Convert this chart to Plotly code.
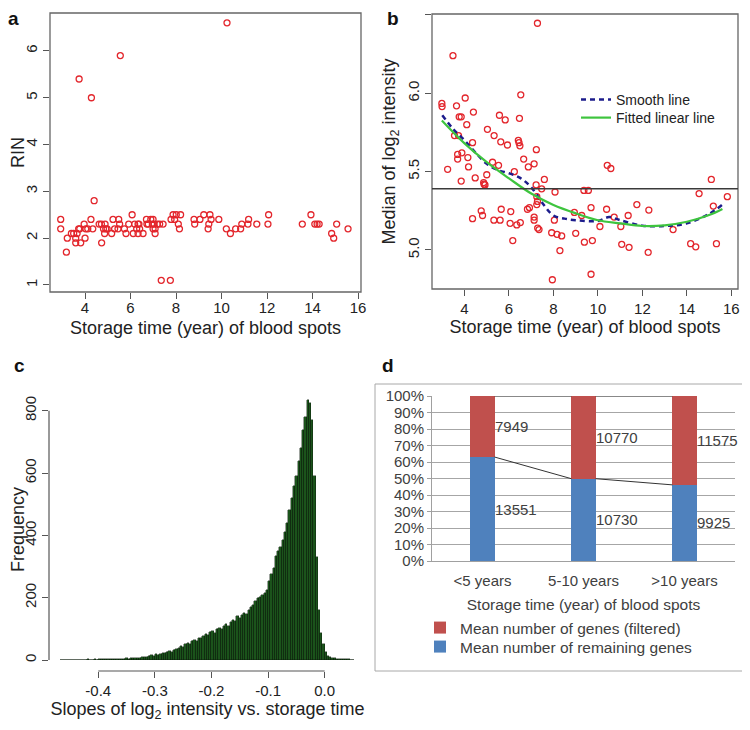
import plotly.graph_objects as go

# ---------------- Panel a: RIN vs storage time ----------------
a_x = [2.93, 2.93, 3.18, 3.22, 3.40, 3.50, 3.59, 3.65, 3.59, 3.74, 3.77, 3.72, 3.81, 3.96, 4.00,
       4.03, 4.12, 4.28, 4.26, 4.34, 4.40, 4.62, 4.72, 4.73, 4.81, 4.86, 4.91, 4.97, 4.88, 5.17,
       5.23, 5.30, 5.45, 5.48, 5.55, 5.52, 5.73, 5.80, 5.92, 6.07, 6.12, 6.18, 6.27, 6.33, 6.33,
       6.40, 6.37, 6.55, 6.70, 6.72, 6.78, 6.89, 6.96, 6.99, 6.99, 7.03, 7.08, 7.08, 7.18, 7.28,
       7.35, 7.43, 7.75, 7.78, 7.87, 7.94, 8.01, 8.10, 8.15, 8.20, 8.79, 8.82, 9.05, 9.22, 9.41,
       9.44, 9.49, 9.54, 9.88, 10.21, 10.24, 10.39, 10.62, 10.84, 10.89, 11.16, 11.19, 11.55, 12.04, 12.07,
       13.55, 13.93, 14.10, 14.20, 14.29, 14.84, 14.93, 15.06, 15.56]
a_y = [2.4, 2.2, 1.7, 2.0, 2.1, 2.1, 2.0, 2.1, 1.9, 5.4, 2.2, 2.2, 1.9, 2.3, 2.0,
       2.2, 2.2, 5.0, 2.4, 2.2, 2.8, 2.3, 2.3, 1.9, 2.2, 2.1, 2.2, 2.2, 2.3, 2.1,
       2.4, 2.2, 2.2, 2.4, 5.9, 2.3, 2.2, 2.1, 2.3, 2.5, 2.1, 2.3, 2.2, 2.1, 2.3,
       2.2, 2.3, 2.1, 2.4, 2.3, 2.3, 2.4, 2.3, 2.4, 2.2, 2.3, 2.1, 2.2, 2.3, 2.3,
       1.1, 2.3, 1.1, 2.4, 2.5, 2.4, 2.5, 2.3, 2.2, 2.5, 2.4, 2.3, 2.4, 2.5, 2.2,
       2.3, 2.5, 2.4, 2.4, 2.2, 6.6, 2.1, 2.2, 2.2, 2.3, 2.3, 2.4, 2.3, 2.3, 2.5,
       2.3, 2.5, 2.3, 2.3, 2.3, 2.1, 2.0, 2.3, 2.2]

# ---------------- Panel b: median log2 intensity ----------------
b_x = [7.28, 3.48, 6.53, 4.03, 2.98, 2.99, 3.64, 4.40, 3.76, 3.85, 5.57, 5.83, 6.47, 4.10, 5.03,
       3.55, 3.73, 5.33, 5.63, 5.93, 6.42, 6.45, 6.49, 4.36, 6.66, 7.23, 3.88, 3.69, 4.15, 3.69,
       4.18, 5.26, 5.53, 6.87, 7.13, 3.24, 6.24, 5.00, 4.48, 3.85, 4.88, 4.92, 4.86, 7.59, 10.42,
       10.58, 7.22, 7.47, 7.25, 7.28, 7.25, 8.07, 9.37, 9.57, 15.10, 14.55, 15.82, 9.69, 10.39, 11.75,
       12.29, 15.19, 11.36, 10.73, 11.03, 4.36, 4.81, 4.75, 5.65, 5.32, 5.60, 6.08, 6.05, 6.35, 6.51,
       6.83, 6.92, 7.13, 7.13, 7.29, 7.35, 8.04, 8.94, 9.27, 10.09, 11.07, 11.40, 12.26, 9.00, 7.92,
       8.16, 8.37, 9.39, 9.75, 6.17, 8.29, 7.95, 9.69, 13.38, 14.17, 14.40, 15.33]
b_y = [6.447, 6.24, 5.99, 5.97, 5.935, 5.915, 5.92, 5.88, 5.85, 5.85, 5.86, 5.83, 5.84, 5.80, 5.77,
       5.73, 5.73, 5.73, 5.69, 5.67, 5.70, 5.685, 5.665, 5.685, 5.58, 5.64, 5.62, 5.61, 5.59, 5.58,
       5.53, 5.56, 5.54, 5.53, 5.55, 5.515, 5.50, 5.48, 5.46, 5.44, 5.42, 5.415, 5.43, 5.45, 5.54,
       5.52, 5.415, 5.39, 5.34, 5.31, 5.29, 5.37, 5.38, 5.38, 5.45, 5.36, 5.34, 5.27, 5.26, 5.29,
       5.255, 5.28, 5.22, 5.21, 5.15, 5.20, 5.22, 5.25, 5.26, 5.19, 5.19, 5.245, 5.17, 5.16, 5.175,
       5.26, 5.27, 5.21, 5.19, 5.14, 5.13, 5.19, 5.24, 5.22, 5.15, 5.036, 5.017, 4.985, 5.106, 5.11,
       5.10, 5.09, 5.05, 5.06, 5.06, 4.996, 4.81, 4.845, 5.13, 5.04, 5.02, 5.04]

b_smooth_x = [3.0, 3.5, 4.0, 4.5, 5.0, 5.5, 6.0, 6.5, 7.0, 7.5, 8.0, 8.5, 9.0, 10.0, 10.5, 11.0,
              12.0, 13.0, 14.0, 15.0, 15.6]
b_smooth_y = [5.86, 5.77, 5.70, 5.62, 5.55, 5.51, 5.49, 5.46, 5.40, 5.30, 5.22, 5.20, 5.19, 5.185,
              5.21, 5.19, 5.155, 5.153, 5.17, 5.23, 5.29]
b_fit_x = [2.98, 4.0, 5.0, 6.0, 7.0, 8.0, 9.0, 10.0, 11.0, 12.0, 13.0, 14.0, 15.0, 15.6]
b_fit_y = [5.826, 5.68, 5.56, 5.457, 5.36, 5.287, 5.234, 5.19, 5.17, 5.153, 5.157, 5.18, 5.223, 5.262]
b_ref = 5.39

# ---------------- Panel c: histogram of slopes ----------------
c_first_center = -0.466
c_bin_width = 0.004
c_counts = [0, 0, 0, 1, 0, 1, 0, 1, 1, 0, 1, 1, 2, 1, 1, 2, 1, 2, 2, 3, 2, 3, 2, 3, 3,
            3, 4, 3, 4, 5, 4, 5, 6, 5, 7, 8, 9, 11, 10, 13, 15, 14, 18, 17, 20, 22, 21, 26, 28, 27,
            33, 35, 38, 44, 42, 50, 55, 52, 62, 65, 60, 72, 70, 78, 84, 80, 90, 94, 88, 100,
            104, 98, 110, 114, 108, 122, 130, 124, 140, 136, 145, 150, 148, 162, 170, 176, 190, 198, 202, 208,
            215, 225, 255, 275, 295, 335, 350, 362, 385, 410, 440, 481, 520, 560, 590, 640, 680, 738, 780, 835,
            825, 770, 590, 330, 160, 86, 50, 25, 14, 10, 6, 5, 4, 4, 3, 3, 2, 2, 1, 0]
c_centers = [round(c_first_center + i * c_bin_width, 4) for i in range(len(c_counts))]

# ---------------- Panel d: stacked percentages ----------------
d_categories = ["<5 years", "5-10 years", ">10 years"]
d_filtered = [7949, 10770, 11575]
d_remaining = [13551, 10730, 9925]
d_tot = [f + r for f, r in zip(d_filtered, d_remaining)]
d_rem_frac = [r / t for r, t in zip(d_remaining, d_tot)]
d_fil_frac = [f / t for f, t in zip(d_filtered, d_tot)]

FONT = "Liberation Sans, Arial, sans-serif"
RED = "#e3262c"
# the page body has an 8px margin, so the figure is made 8px smaller and all
# screen positions below are converted from window pixels to figure fractions
OFF = 8
W, H = 750 - OFF, 730 - OFF


def px(x):
    return (x - OFF) / W


def py(y):
    return 1 - (y - OFF) / H


fig = go.Figure()

# panel a
fig.add_trace(go.Scatter(x=a_x, y=a_y, mode="markers", xaxis="x", yaxis="y", showlegend=False,
                         marker=dict(symbol="circle-open", size=6, color=RED, line=dict(width=1.3))))
# panel b
fig.add_trace(go.Scatter(x=b_x, y=b_y, mode="markers", xaxis="x2", yaxis="y2", showlegend=False,
                         marker=dict(symbol="circle-open", size=6, color=RED, line=dict(width=1.3))))
fig.add_trace(go.Scatter(x=b_smooth_x, y=b_smooth_y, mode="lines", xaxis="x2", yaxis="y2",
                         name="Smooth line", legend="legend", line_shape="spline",
                         line=dict(color="#1c1c8c", width=2.5, dash="5px,4px")))
fig.add_trace(go.Scatter(x=b_fit_x, y=b_fit_y, mode="lines", xaxis="x2", yaxis="y2",
                         name="Fitted linear line", legend="legend3", line_shape="spline",
                         line=dict(color="#3ec43e", width=2.2)))
# panel c
fig.add_trace(go.Bar(x=c_centers, y=c_counts, width=c_bin_width, xaxis="x3", yaxis="y3",
                     showlegend=False, marker=dict(color="#1b531b", line=dict(color="#0a1a0a", width=0.4))))
# panel d
bw = 0.24
fig.add_trace(go.Bar(x=[0, 1, 2], y=d_rem_frac, width=bw, xaxis="x4", yaxis="y4",
                     name="Mean number of remaining genes", legend="legend4",
                     marker=dict(color="#4f81bd", line=dict(width=0))))
fig.add_trace(go.Bar(x=[0, 1, 2], y=d_fil_frac, width=bw, xaxis="x4", yaxis="y4",
                     name="Mean number of genes (filtered)", legend="legend2",
                     marker=dict(color="#c0504d", line=dict(width=0))))
# series lines between bars
for i in range(len(d_categories) - 1):
    fig.add_trace(go.Scatter(x=[i + bw / 2, i + 1 - bw / 2], y=[d_rem_frac[i], d_rem_frac[i + 1]],
                             mode="lines", xaxis="x4", yaxis="y4", showlegend=False,
                             line=dict(color="#333333", width=1)))
    fig.add_trace(go.Scatter(x=[i + bw / 2, i + 1 - bw / 2], y=[1, 1],
                             mode="lines", xaxis="x4", yaxis="y4", showlegend=False,
                             line=dict(color="#333333", width=1)))

annotations = []
for i in range(len(d_categories)):
    annotations.append(dict(x=i + bw / 2, y=d_rem_frac[i] + d_fil_frac[i] / 2, xref="x4", yref="y4",
                            text=str(d_filtered[i]), showarrow=False, xanchor="left", xshift=-2,
                            font=dict(family=FONT, size=15, color="#404040")))
    annotations.append(dict(x=i + bw / 2, y=d_rem_frac[i] / 2, xref="x4", yref="y4",
                            text=str(d_remaining[i]), showarrow=False, xanchor="left", xshift=-2,
                            font=dict(family=FONT, size=15, color="#404040")))

for lab, x, y in [("a", 13, 19), ("b", 393, 19), ("c", 19, 366), ("d", 388, 366)]:
    annotations.append(dict(x=px(x), y=py(y), xref="paper", yref="paper", text="<b>%s</b>" % lab,
                            xanchor="center", yanchor="middle", borderpad=0,
                            showarrow=False, font=dict(family=FONT, size=19, color="#111")))

BOXC = "#666666"
shapes = [
    dict(type="rect", xref="x domain", yref="y domain", x0=0, x1=1, y0=0, y1=1,
         line=dict(color=BOXC, width=1.3)),
    dict(type="rect", xref="x2 domain", yref="y2 domain", x0=0, x1=1, y0=0, y1=1,
         line=dict(color=BOXC, width=1.3)),
    dict(type="line", xref="x2 domain", yref="y2", x0=0, x1=1, y0=b_ref, y1=b_ref,
         line=dict(color="#3a3a3a", width=1.5)),
    dict(type="line", xref="x3", yref="y3 domain", x0=-0.4, x1=0.0, y0=0, y1=0,
         line=dict(color="#555555", width=1.2)),
    dict(type="line", xref="x3 domain", yref="y3", x0=0, x1=0, y0=0, y1=800,
         line=dict(color="#555555", width=1.2)),
    dict(type="rect", xref="paper", yref="paper", x0=px(375), x1=px(744), y0=py(671), y1=py(384),
         line=dict(color="#a8a8a8", width=1)),
]

tickf = dict(family=FONT, size=15, color="#222")
titlef = dict(family=FONT, size=18, color="#222")
rbox = dict(showline=False, ticks="outside", automargin=False,
            ticklen=6, tickcolor="#555555", showgrid=False, zeroline=False, tickfont=tickf)

leg_common = dict(xanchor="left", yanchor="middle", bgcolor="rgba(0,0,0,0)", itemwidth=30,
                  tracegroupgap=0)

fig.update_layout(
    width=W, height=H, margin=dict(l=0, r=0, t=0, b=0, autoexpand=False),
    paper_bgcolor="white", plot_bgcolor="white", barmode="stack", bargap=0,
    font=dict(family=FONT),
    xaxis=dict(domain=[px(50), px(361)], range=[2.46, 16.13], tickvals=[4, 6, 8, 10, 12, 14, 16],
               anchor="y", ticklabelstandoff=-4,
               title=dict(text="Storage time (year) of blood spots", font=titlef, standoff=6), **rbox),
    yaxis=dict(domain=[py(292), py(13)], range=[0.85, 6.81], tickvals=[1, 2, 3, 4, 5, 6], tickangle=-90,
               anchor="x", title=dict(text="RIN", font=titlef, standoff=0), **rbox),
    xaxis2=dict(domain=[px(432), px(738)], range=[2.537, 16.30], tickvals=[4, 6, 8, 10, 12, 14, 16],
                anchor="y2", title=dict(text="Storage time (year) of blood spots", font=titlef, standoff=1), **rbox),
    yaxis2=dict(domain=[py(289), py(14)], range=[4.751, 6.506], tickvals=[5.0, 5.5, 6.0, 6.5],
                ticktext=["5.0", "5.5", "6.0", "6.5"], tickangle=-90, anchor="x2",
                title=dict(text="Median of log<sub>2</sub> intensity", font=titlef, standoff=4), **rbox),
    xaxis3=dict(domain=[px(49), px(366)], range=[-0.487, 0.073], tickvals=[-0.4, -0.3, -0.2, -0.1, 0.0],
                ticktext=["-0.4", "-0.3", "-0.2", "-0.1", "0.0"], anchor="y3",
                title=dict(text="Slopes of log<sub>2</sub> intensity vs. storage time", font=titlef, standoff=0),
                **rbox),
    yaxis3=dict(domain=[py(671), py(388)], range=[-35.3, 873], tickvals=[0, 200, 400, 600, 800],
                tickangle=-90, anchor="x3",
                title=dict(text="Frequency", font=titlef, standoff=0), **rbox),
    xaxis4=dict(domain=[px(432), px(735)], range=[-0.5, 2.5], tickvals=[0, 1, 2], ticktext=d_categories,
                anchor="y4", showline=True, linecolor="#a0a0a0", linewidth=1, ticks="", showgrid=False,
                zeroline=False, automargin=False, ticklabelstandoff=6,
                tickfont=dict(family=FONT, size=15, color="#404040"),
                title=dict(text="Storage time (year) of blood spots",
                           font=dict(family=FONT, size=15.5, color="#404040"), standoff=11)),
    yaxis4=dict(domain=[py(561), py(396)], range=[0, 1.0005], tickvals=[i / 10 for i in range(11)],
                tickformat=".0%", anchor="x4", showline=True, linecolor="#a0a0a0", linewidth=1,
                ticks="outside", ticklen=4, tickcolor="#a0a0a0", showgrid=True, gridcolor="#a6a6a6",
                gridwidth=1, zeroline=False, automargin=False,
                tickfont=dict(family=FONT, size=15, color="#404040")),
    legend=dict(x=px(576), y=py(100), font=dict(family=FONT, size=14, color="#222"), **leg_common),
    legend3=dict(x=px(576), y=py(118), font=dict(family=FONT, size=14, color="#222"), **leg_common),
    legend2=dict(x=px(420), y=py(628), font=dict(family=FONT, size=15.5, color="#404040"), **leg_common),
    legend4=dict(x=px(420), y=py(647), font=dict(family=FONT, size=15.5, color="#404040"), **leg_common),
    annotations=annotations,
    shapes=shapes,
)

fig.write_html("out.html")
